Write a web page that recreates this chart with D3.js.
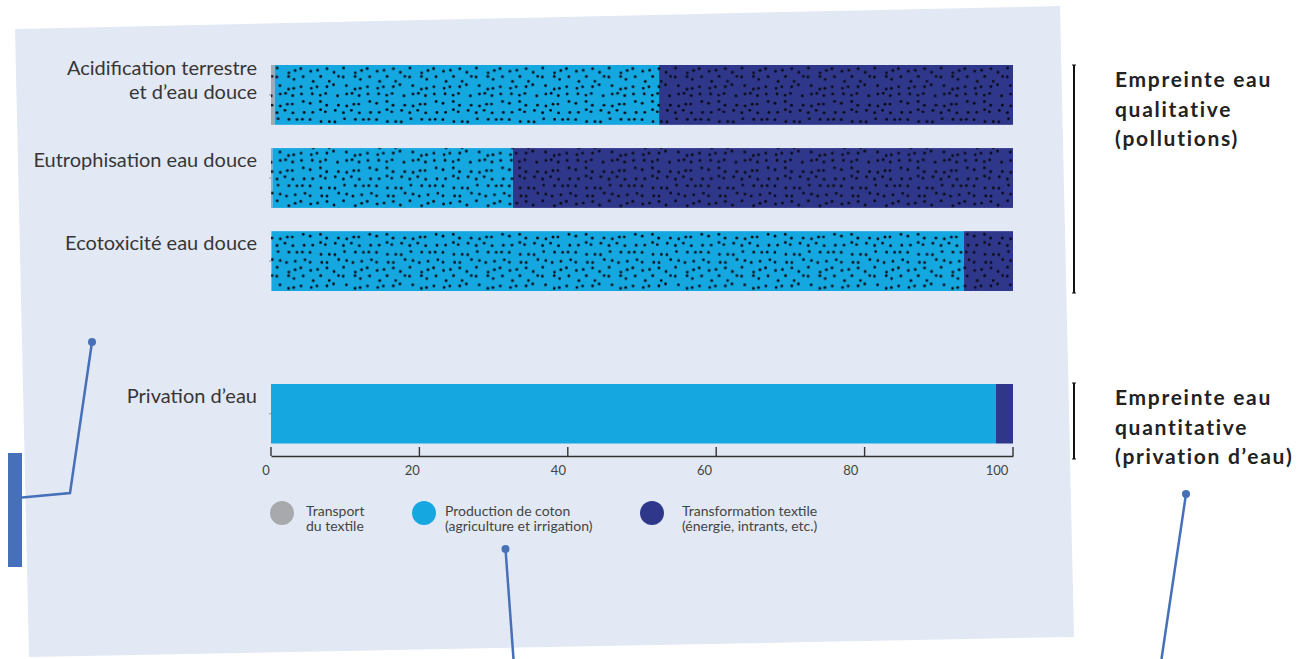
<!DOCTYPE html>
<html>
<head>
<meta charset="utf-8">
<script src="https://cdn.jsdelivr.net/npm/d3@7/dist/d3.min.js"></script>
<style>
  html, body { margin: 0; padding: 0; background: #ffffff; }
  svg { display: block; font-family: Lato, "Noto Sans", sans-serif; }
</style>
</head>
<body>
<svg id="chart" width="1309" height="659"></svg>
<script>
// ---------- DATA ----------
const categories = ["Acidification terrestre\net d’eau douce", "Eutrophisation eau douce", "Ecotoxicité eau douce", "Privation d’eau"];
const groups = ["qual", "qual", "qual", "quant"];
const transport = [0.5, 0.2, 0.1, 0];
const coton = [51.8, 32.4, 93.3, 97.7];
const textile = [47.7, 67.4, 6.6, 2.3];
const dotted = [true, true, true, false];
const seriesKeys = ["transport", "coton", "textile"];
const seriesNames = ["Transport\ndu textile", "Production de coton\n(agriculture et irrigation)", "Transformation textile\n(énergie, intrants, etc.)"];
const xTicks = [0, 20, 40, 60, 80, 100];
const groupTitles = [
  ["Empreinte eau", "qualitative", "(pollutions)"],
  ["Empreinte eau", "quantitative", "(privation d’eau)"]
];

// ---------- STYLE ----------
const colors = { transport: "#a7a9ac", coton: "#15a8e0", textile: "#2e3789" };
const accent = "#4670b8";

const svg = d3.select("#chart");

// background panel (slightly rotated card)
svg.append("polygon")
  .attr("points", "15,29 1060,6 1074,637 29,657")
  .attr("fill", "#e2e9f5");

// dotted texture pattern (deterministic jittered grid)
const defs = svg.append("defs");
const cell = 8.3, nCell = 8;
const pat = defs.append("pattern")
  .attr("id", "dots").attr("patternUnits", "userSpaceOnUse")
  .attr("width", cell * nCell).attr("height", cell * nCell);
let seed = 12345;
function rnd() { seed = (seed * 16807) % 2147483647; return seed / 2147483647; }
for (let i = 0; i < nCell; i++) {
  for (let j = 0; j < nCell; j++) {
    pat.append("circle")
      .attr("cx", i * cell + 1.5 + rnd() * (cell - 3))
      .attr("cy", j * cell + 1.5 + rnd() * (cell - 3))
      .attr("r", 1.4)
      .attr("fill", "#0a0a14");
  }
}

// ---------- SCALES ----------
const x = d3.scaleLinear().domain([0, 100]).range([271, 1013]);
const xLabel = d3.scaleLinear().domain([0, 100]).range([266, 997]);
const qualCats = categories.filter((c, i) => groups[i] === "qual");
const quantCats = categories.filter((c, i) => groups[i] === "quant");
const yQual = d3.scaleBand().domain(qualCats).range([65, 291]).paddingInner(0.28);
const yQuant = d3.scaleBand().domain(quantCats).range([384, 443.5]).padding(0);
const yOf = (i) => groups[i] === "qual" ? yQual(categories[i]) : yQuant(categories[i]);
const hOf = (i) => groups[i] === "qual" ? yQual.bandwidth() : yQuant.bandwidth();

// stacked data
const rows = categories.map((c, i) => ({ cat: c, transport: transport[i], coton: coton[i], textile: textile[i], i }));
const stack = d3.stack().keys(seriesKeys)(rows);

const g = svg.append("g");
stack.forEach(layer => {
  g.selectAll(null).data(layer).enter().append("rect")
    .attr("x", d => x(d[0]))
    .attr("width", d => Math.max(0, x(d[1]) - x(d[0])))
    .attr("y", d => yOf(d.data.i))
    .attr("height", d => hOf(d.data.i))
    .attr("fill", colors[layer.key]);
});

// dotted overlay
g.selectAll(null).data(rows.filter(r => dotted[r.i])).enter().append("rect")
  .attr("x", x(0))
  .attr("width", d => x(d.transport + d.coton + d.textile) - x(0))
  .attr("y", d => yOf(d.i))
  .attr("height", d => hOf(d.i))
  .attr("fill", "url(#dots)");

// tiny gray y ticks
g.selectAll(null).data(rows).enter().append("line")
  .attr("x1", x(0) - 2).attr("x2", x(0))
  .attr("y1", d => yOf(d.i) + hOf(d.i) / 2)
  .attr("y2", d => yOf(d.i) + hOf(d.i) / 2)
  .attr("stroke", "#999").attr("stroke-width", 1);

// category labels
rows.forEach(r => {
  const lines = r.cat.split("\n");
  const top = yOf(r.i);
  const t = svg.append("text")
    .attr("text-anchor", "end")
    .attr("font-size", 20)
    .attr("fill", "#363636");
  if (lines.length === 1) {
    t.append("tspan").attr("x", 257).attr("y", top + 18.5).text(lines[0]);
  } else {
    lines.forEach((l, k) => t.append("tspan").attr("x", 257).attr("y", top + 10 + k * 24).text(l));
  }
});

// x axis
const axis = d3.axisBottom(x).tickValues(xTicks).tickSize(0).tickFormat("");
const ax = svg.append("g").attr("transform", "translate(0,456)").call(axis);
ax.select(".domain").attr("stroke", "#333").attr("stroke-width", 1.6);
svg.append("g").selectAll(null).data(xTicks).enter().append("line")
  .attr("x1", d => x(d)).attr("x2", d => x(d))
  .attr("y1", 447).attr("y2", 456)
  .attr("stroke", "#333").attr("stroke-width", 1.4);
svg.append("g").selectAll(null).data(xTicks).enter().append("text")
  .attr("x", d => xLabel(d)).attr("y", 475)
  .attr("text-anchor", "middle")
  .attr("font-size", 13).attr("fill", "#444")
  .text(d => d);

// legend
const legendX = [282, 424, 652];
const legendTextX = [306, 445, 682];
seriesKeys.forEach((k, i) => {
  svg.append("circle").attr("cx", legendX[i]).attr("cy", 513).attr("r", 12).attr("fill", colors[k]);
  const t = svg.append("text").attr("font-size", 14).attr("fill", "#444");
  seriesNames[i].split("\n").forEach((l, j) =>
    t.append("tspan").attr("x", legendTextX[i]).attr("y", 516 + j * 15).text(l));
});

// right brackets and group titles
const brackets = [[65, 293], [383, 459]];
const titleBase = [87, 405];
brackets.forEach((b, i) => {
  svg.append("line").attr("x1", 1074).attr("x2", 1074).attr("y1", b[0]).attr("y2", b[1])
    .attr("stroke", "#111").attr("stroke-width", 2);
  [b[0], b[1]].forEach(yy => svg.append("line").attr("x1", 1072).attr("x2", 1076)
    .attr("y1", yy).attr("y2", yy).attr("stroke", "#111").attr("stroke-width", 1));
  const t = svg.append("text").attr("font-size", 21).attr("font-weight", 700)
    .attr("letter-spacing", 1.7).attr("fill", "#222");
  groupTitles[i].forEach((l, j) =>
    t.append("tspan").attr("x", 1115).attr("y", titleBase[i] + j * 29.5).text(l));
});

// decorative connectors
svg.append("rect").attr("x", 8).attr("y", 453).attr("width", 14).attr("height", 114).attr("fill", accent);
svg.append("polyline").attr("points", "22,497.5 70,493 92,342")
  .attr("fill", "none").attr("stroke", accent).attr("stroke-width", 2.5);
svg.append("circle").attr("cx", 92).attr("cy", 342).attr("r", 4).attr("fill", accent);
svg.append("line").attr("x1", 505.5).attr("y1", 549).attr("x2", 513.5).attr("y2", 659)
  .attr("stroke", accent).attr("stroke-width", 2.5);
svg.append("circle").attr("cx", 505.5).attr("cy", 549).attr("r", 4).attr("fill", accent);
svg.append("line").attr("x1", 1186).attr("y1", 494).attr("x2", 1161.5).attr("y2", 659)
  .attr("stroke", accent).attr("stroke-width", 2.5);
svg.append("circle").attr("cx", 1186).attr("cy", 494).attr("r", 4).attr("fill", accent);
</script>
</body>
</html>
